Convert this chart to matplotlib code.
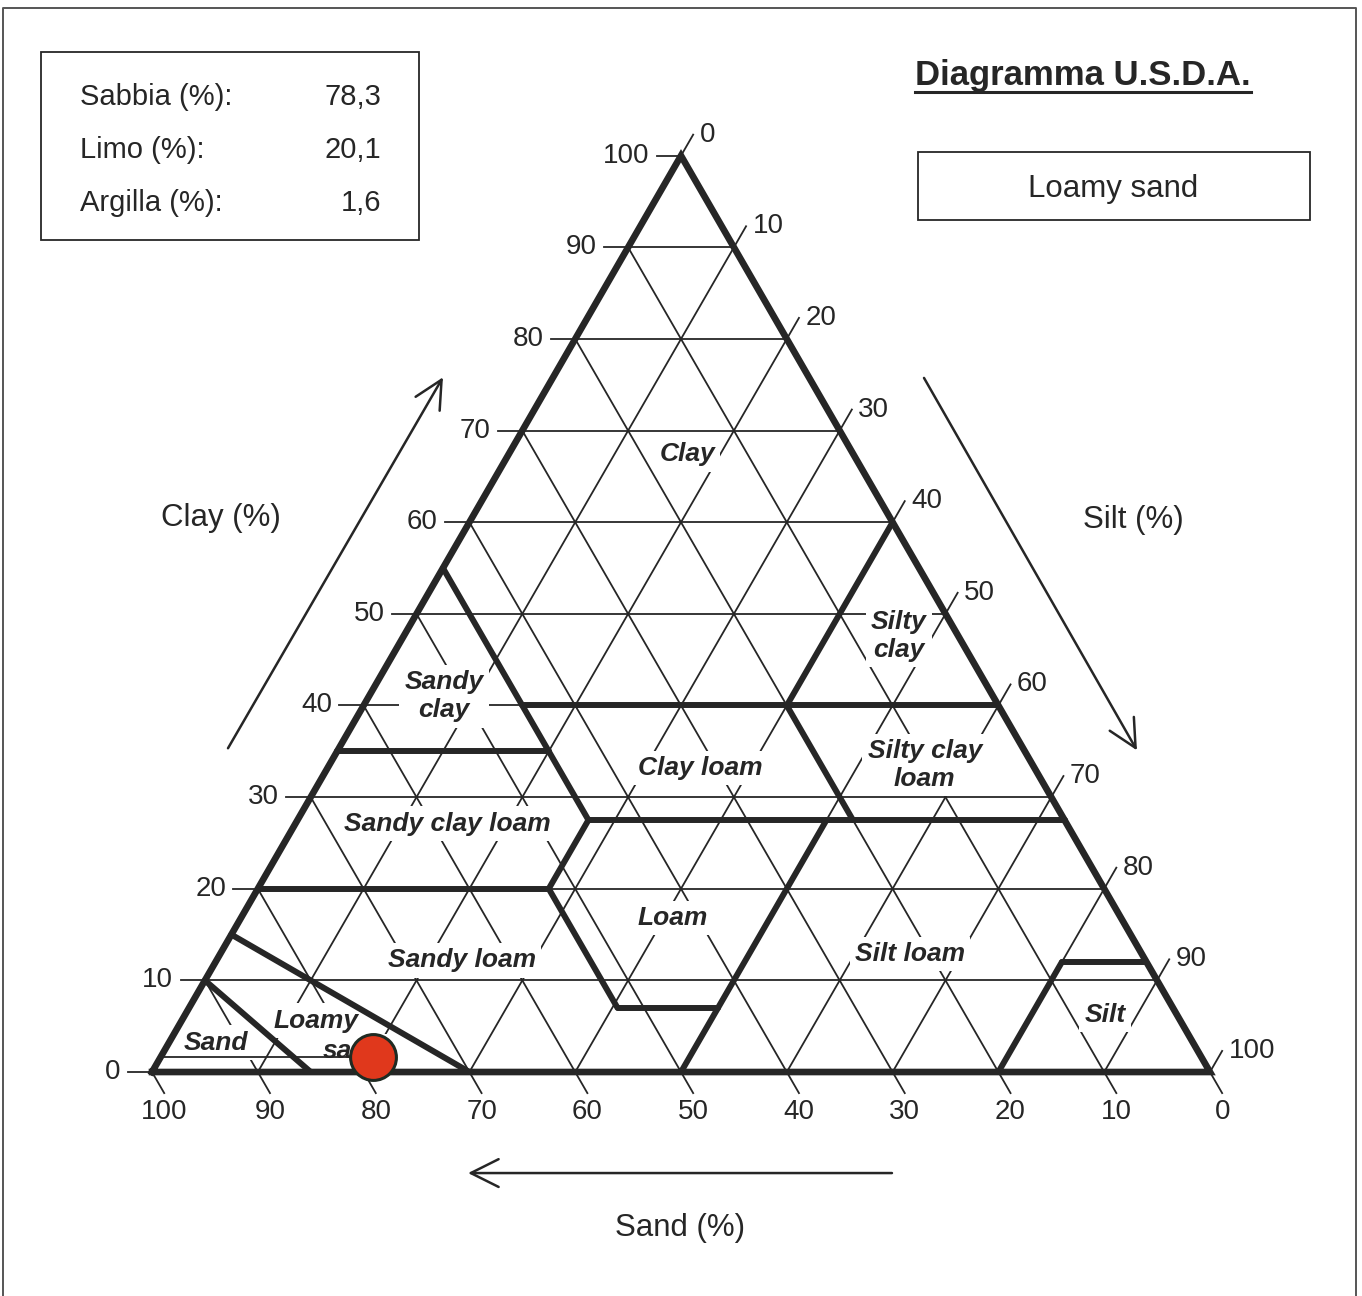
import numpy as np
import matplotlib
matplotlib.use("Agg")
import matplotlib.pyplot as plt
from matplotlib.patches import Rectangle

plt.rcParams['font.family'] = ['Liberation Sans', 'DejaVu Sans']

# sample composition
sample_sand = 78.3
sample_silt = 20.1
sample_clay = 1.6
sample_class = "Loamy sand"
info_labels = ["Sabbia (%):", "Limo (%):", "Argilla (%):"]
info_values = ["78,3", "20,1", "1,6"]

tick_values = list(range(0, 101, 10))

# USDA class boundaries, (sand, clay) end points
boundary_start = [(45, 55), (65, 35), (45, 40), (0, 60), (20, 40), (45, 27.5), (45, 27.5),
                  (80, 20), (52.5, 20), (52.5, 7), (22.5, 27.5), (85, 15), (90, 10), (20, 0), (8, 12)]
boundary_end = [(45, 27.5), (45, 35), (0, 40), (20, 40), (20, 27.5), (0, 27.5), (52.5, 20),
                (52.5, 20), (52.5, 7), (43, 7), (50, 0), (70, 0), (85, 0), (8, 12), (0, 12)]

# class names and where they sit (sand, clay)
class_names = ["Clay", "Sandy\nclay", "Silty\nclay", "Silty clay\nloam", "Clay loam",
               "Sandy clay loam", "Loam", "Sandy loam", "Silt loam", "Silt", "Loamy", "sand", "Sand"]
class_sand = [15.7, 51.9, 5.6, 10.2, 31.6, 58.5, 42.4, 64.6, 21.9, 6.8, 81.7, 79.8, 92.4]
class_clay = [67.4, 41.0, 47.6, 33.5, 33.2, 27.1, 16.8, 12.2, 12.9, 6.2, 5.6, 2.3, 3.2]

INK = "#262626"
H = np.sqrt(3) / 2


def tern(sand, clay):
    silt = 100.0 - sand - clay
    return silt + clay / 2.0, clay * H


def seg(ax, p, q, **kw):
    x0, y0 = tern(*p)
    x1, y1 = tern(*q)
    ax.plot([x0, x1], [y0, y1], solid_capstyle='round', **kw)


fig = plt.figure(figsize=(13.62, 12.96), dpi=100)
ax = fig.add_axes([0, 0, 1, 1])
ax.set_xlim(-14.37, 114.37)
ax.set_ylim(-21.17, 101.32)
ax.axis('off')

# page frame
ax.plot([0.0025, 0.0025, 0.9956, 0.9956], [0.0, 0.9938, 0.9938, 0.0], transform=ax.transAxes,
        color="#555555", lw=1.4, clip_on=False)

# thin grid, extended outside the triangle as ticks
tl = 2.3
for k in tick_values:
    # constant clay -> left ticks
    x0, y0 = tern(100 - k, k)
    x1, y1 = tern(0, k)
    ax.plot([x0 - tl, x1], [y0, y1], color=INK, lw=1.3, zorder=1)
    ax.text(x0 - tl - 0.7, y0, str(k), ha='right', va='center', fontsize=20, color=INK)
    # constant sand -> bottom ticks
    x0, y0 = tern(k, 0)
    x1, y1 = tern(k, 100 - k)
    ax.plot([x0 + tl * 0.5, x1], [y0 - tl * H, y1], color=INK, lw=1.3, zorder=1)
    ax.text(x0 + tl * 0.5, y0 - tl * H - 0.6, str(k), ha='center', va='top', fontsize=20, color=INK)
    # constant silt -> right ticks
    x0, y0 = tern(100 - k, 0)
    x1, y1 = tern(0, 100 - k)
    ax.plot([x0, x1 + tl * 0.5], [y0, y1 + tl * H], color=INK, lw=1.3, zorder=1)
    ax.text(x1 + tl * 0.5 + 0.6, y1 + tl * H, str(k), ha='left', va='center', fontsize=20, color=INK)

# class labels
for name, sa, cl in zip(class_names, class_sand, class_clay):
    x, y = tern(sa, cl)
    ax.text(x, y, name, ha='center', va='center', fontsize=19, fontweight='bold', fontstyle='italic',
            color=INK, linespacing=1.2, zorder=2,
            bbox=dict(boxstyle='square,pad=0.2', facecolor='white', edgecolor='none'))

# guide line of the sample clay content
seg(ax, (100 - sample_clay, sample_clay), (sample_sand, sample_clay), color=INK, lw=1.3, zorder=2.2)

# class boundaries
for p, q in zip(boundary_start, boundary_end):
    seg(ax, p, q, color=INK, lw=4.3, zorder=3)

# outer triangle
tri = [tern(100, 0), tern(0, 0), tern(0, 100), tern(100, 0)]
ax.plot([t[0] for t in tri], [t[1] for t in tri], color=INK, lw=4.8, zorder=3,
        solid_joinstyle='miter')

# sample point
px, py = tern(sample_sand, sample_clay)
ax.plot(px, py, 'o', ms=33, mfc='#e0381c', mec='#1f2a22', mew=2.2, zorder=5)

# axis arrows and names
arrow = dict(arrowstyle='->', lw=1.8, color=INK, mutation_scale=50, shrinkA=0, shrinkB=0)
ax.annotate('', xy=(27.5, 65.66), xytext=(7.18, 30.6), arrowprops=arrow)
ax.annotate('', xy=(93.1, 30.4), xytext=(72.97, 65.6), arrowprops=arrow)
ax.annotate('', xy=(29.87, -9.55), xytext=(69.94, -9.55), arrowprops=arrow)
ax.text(6.52, 52.36, "Clay (%)", ha='center', va='center', fontsize=22.5, color=INK)
ax.text(92.72, 52.17, "Silt (%)", ha='center', va='center', fontsize=22.5, color=INK)
ax.text(49.9, -14.74, "Sand (%)", ha='center', va='center', fontsize=22.5, color=INK)

# info box
ax.add_patch(Rectangle((0.0301, 0.8148), 0.2775, 0.1451, transform=ax.transAxes,
                       facecolor='none', edgecolor=INK, lw=1.3))
for i, (lab, val) in enumerate(zip(info_labels, info_values)):
    yy = 0.9252 - i * 0.0409
    ax.text(0.0587, yy, lab, transform=ax.transAxes, ha='left', va='center', fontsize=21, color=INK)
    ax.text(0.2797, yy, val, transform=ax.transAxes, ha='right', va='center', fontsize=21, color=INK)

# title, underlined
title = ax.text(0.6718, 0.9420, "Diagramma U.S.D.A.", transform=ax.transAxes, ha='left', va='center',
                fontsize=25, fontweight='bold', color=INK)
fig.canvas.draw()
bb = title.get_window_extent().transformed(ax.transAxes.inverted())
ax.plot([bb.x0, bb.x1], [0.929, 0.929], transform=ax.transAxes, color=INK, lw=2.2)

# result box
ax.add_patch(Rectangle((0.674, 0.8302), 0.2878, 0.0525, transform=ax.transAxes,
                       facecolor='none', edgecolor=INK, lw=1.3))
ax.text(0.8172, 0.8545, sample_class, transform=ax.transAxes, ha='center', va='center',
        fontsize=22.5, color=INK)

fig.savefig("out.png", dpi=100)
